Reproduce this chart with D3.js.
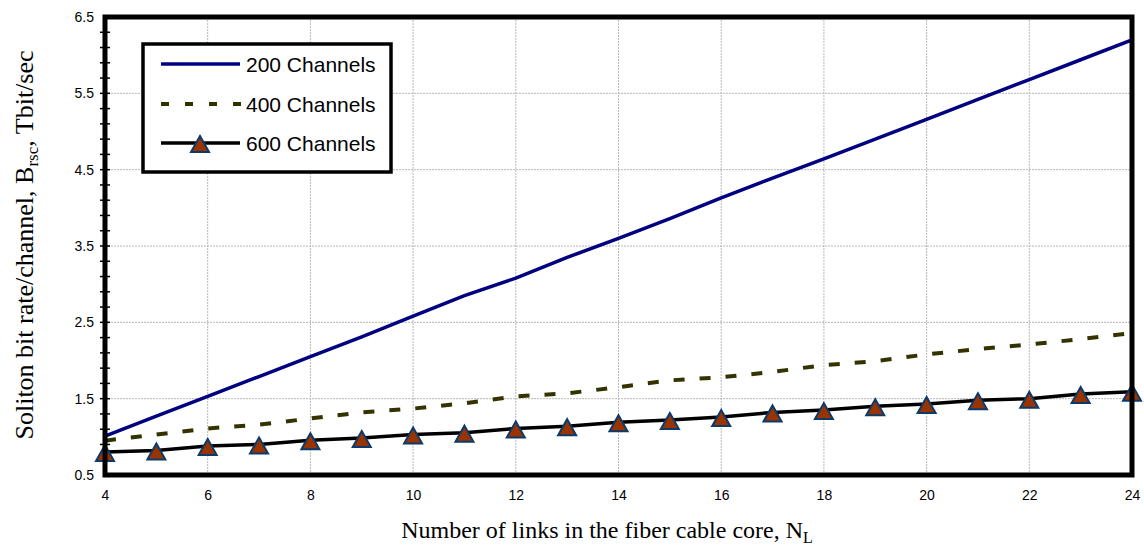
<!DOCTYPE html>
<html>
    <head>
        <title>Soliton bit rate per channel</title>
        <style>
            body { margin: 0; background: #fff; }
            .tick-label { font-family: Arial, "Liberation Sans", sans-serif; font-size: 14px; fill: #000; }
            .axis-title { font-family: "Times New Roman", "Liberation Serif", serif; font-size: 24px; fill: #000; }
            .legend-text { font-family: Arial, "Liberation Sans", sans-serif; font-size: 21px; fill: #000; }
        </style>
        <script src="https://cdnjs.cloudflare.com/ajax/libs/d3/7.8.5/d3.min.js" charset="utf-8"></script>
    </head>
    <body>
        <div class="ChartContainer"></div>
        <script>
            // values
            const links = [4, 5, 6, 7, 8, 9, 10, 11, 12, 13, 14, 15, 16, 17, 18, 19, 20, 21, 22, 23, 24];
            const ch200 = [1.01, 1.27, 1.53, 1.79, 2.05, 2.31, 2.58, 2.85, 3.08, 3.35, 3.60, 3.86, 4.13, 4.39, 4.64, 4.90, 5.16, 5.42, 5.68, 5.94, 6.20];
            const ch400 = [0.95, 1.03, 1.11, 1.16, 1.24, 1.32, 1.37, 1.44, 1.53, 1.57, 1.65, 1.74, 1.78, 1.85, 1.94, 1.99, 2.08, 2.15, 2.21, 2.28, 2.36];
            const ch600 = [0.80, 0.82, 0.88, 0.90, 0.955, 0.985, 1.03, 1.055, 1.11, 1.14, 1.19, 1.22, 1.26, 1.32, 1.35, 1.40, 1.43, 1.48, 1.50, 1.56, 1.59];
            const seriesNames = ["200 Channels", "400 Channels", "600 Channels"];
            const xTicks = [4, 6, 8, 10, 12, 14, 16, 18, 20, 22, 24];
            const yTicks = [0.5, 1.5, 2.5, 3.5, 4.5, 5.5, 6.5];

            const w = 1144;
            const h = 552;
            const plotL = 105, plotR = 1132, plotT = 17, plotB = 475;

            const svg = d3.select(".ChartContainer")
                .append("svg")
                .attr("width", w)
                .attr("height", h);

            const xScale = d3.scaleLinear().domain([4, 24]).range([plotL, plotR]);
            const yScale = d3.scaleLinear().domain([0.5, 6.5]).range([plotB, plotT]);

            // dotted grid
            svg.append("g")
                .selectAll("line")
                .data(xTicks.slice(1, -1))
                .enter()
                .append("line")
                .attr("x1", d => xScale(d)).attr("x2", d => xScale(d))
                .attr("y1", plotT).attr("y2", plotB)
                .attr("stroke", "#b8b8b8").attr("stroke-width", 1).attr("stroke-dasharray", "2,1");
            svg.append("g")
                .selectAll("line")
                .data(yTicks.slice(1, -1))
                .enter()
                .append("line")
                .attr("x1", plotL).attr("x2", plotR)
                .attr("y1", d => yScale(d)).attr("y2", d => yScale(d))
                .attr("stroke", "#b8b8b8").attr("stroke-width", 1).attr("stroke-dasharray", "2,1");

            // minor ticks on the y axis
            const minor = d3.range(0.7, 6.5, 0.2);
            svg.append("g")
                .selectAll("line")
                .data(minor)
                .enter()
                .append("line")
                .attr("x1", plotL - 5).attr("x2", plotL + 5)
                .attr("y1", d => yScale(d)).attr("y2", d => yScale(d))
                .attr("stroke", "#000").attr("stroke-width", 1.5);

            // axes (labels only, frame drawn separately)
            const xAxis = d3.axisBottom(xScale).tickValues(xTicks).tickSize(0).tickPadding(15);
            const yAxis = d3.axisLeft(yScale).tickValues(yTicks).tickSize(0).tickPadding(11).tickFormat(d3.format(".1f"));
            const gx = svg.append("g").attr("transform", "translate(0," + plotB + ")").call(xAxis);
            const gy = svg.append("g").attr("transform", "translate(" + plotL + ",0)").call(yAxis);
            gx.select(".domain").remove();
            gy.select(".domain").remove();
            gx.attr("font-size", null).attr("font-family", null);
            gy.attr("font-size", null).attr("font-family", null);
            gx.selectAll("text").attr("class", "tick-label");
            gy.selectAll("text").attr("class", "tick-label");

            const line = d3.line()
                .x((d, i) => xScale(links[i]))
                .y(d => yScale(d));

            svg.append("path").datum(ch200)
                .attr("d", line).attr("fill", "none")
                .attr("stroke", "#000080").attr("stroke-width", 3.5);
            svg.append("path").datum(ch400)
                .attr("d", line).attr("fill", "none")
                .attr("stroke", "#333300").attr("stroke-width", 4).attr("stroke-dasharray", "11,15");
            svg.append("path").datum(ch600)
                .attr("d", line).attr("fill", "none")
                .attr("stroke", "#000").attr("stroke-width", 3.5);

            const tri = "M0,-7 L9,9 L-9,9 Z";
            svg.append("g")
                .selectAll("path")
                .data(ch600)
                .enter()
                .append("path")
                .attr("d", tri)
                .attr("transform", (d, i) => "translate(" + xScale(links[i]) + "," + yScale(d) + ")")
                .attr("fill", "#993300").attr("stroke", "#0b3a6b").attr("stroke-width", 2);

            // frame
            svg.append("rect")
                .attr("x", plotL).attr("y", plotT)
                .attr("width", plotR - plotL).attr("height", plotB - plotT)
                .attr("fill", "none").attr("stroke", "#000").attr("stroke-width", 5);

            // legend
            const legend = svg.append("g");
            legend.append("rect").attr("x", 143).attr("y", 44).attr("width", 248).attr("height", 128)
                .attr("fill", "#fff").attr("stroke", "#000").attr("stroke-width", 3.5);
            const ly = [64, 104, 143];
            legend.append("line").attr("x1", 161).attr("x2", 240).attr("y1", ly[0]).attr("y2", ly[0])
                .attr("stroke", "#000080").attr("stroke-width", 3.5);
            legend.append("line").attr("x1", 161).attr("x2", 241).attr("y1", ly[1]).attr("y2", ly[1])
                .attr("stroke", "#333300").attr("stroke-width", 4).attr("stroke-dasharray", "8,16");
            legend.append("line").attr("x1", 161).attr("x2", 240).attr("y1", ly[2]).attr("y2", ly[2])
                .attr("stroke", "#000").attr("stroke-width", 3.5);
            legend.append("path").attr("d", tri)
                .attr("transform", "translate(200," + ly[2] + ")")
                .attr("fill", "#993300").attr("stroke", "#0b3a6b").attr("stroke-width", 2);
            seriesNames.forEach((s, i) => {
                legend.append("text").attr("class", "legend-text")
                    .attr("x", 246).attr("y", ly[i] + 7.5).text(s);
            });

            // axis titles
            const xt = svg.append("text").attr("class", "axis-title")
                .attr("x", 607).attr("y", 538).attr("text-anchor", "middle");
            xt.append("tspan").text("Number of links in the fiber cable core, N");
            xt.append("tspan").attr("font-size", "16px").attr("dy", 5).text("L");

            const yt = svg.append("text").attr("class", "axis-title")
                .attr("transform", "translate(33,245) rotate(-90)")
                .attr("text-anchor", "middle")
                .style("font-size", "26px");
            yt.append("tspan").text("Soliton bit rate/channel, B");
            yt.append("tspan").attr("font-size", "17px").attr("dy", 5).text("rsc");
            yt.append("tspan").attr("dy", -5).text(",  Tbit/sec");
        </script>
    </body>
</html>
